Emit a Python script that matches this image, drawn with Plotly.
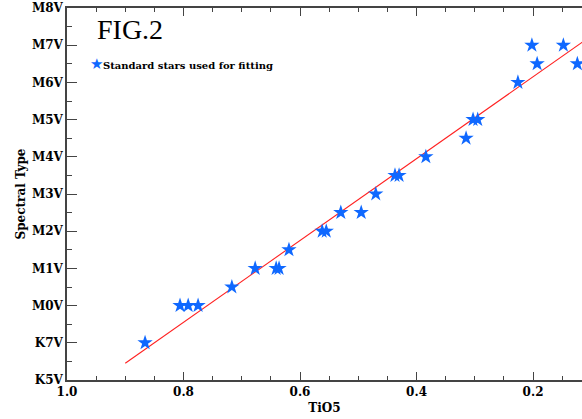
import plotly.graph_objects as go

# Standard stars: TiO5 index vs spectral type (K5V=0, K7V=1, M0V=2, ..., M8V=10)
tio5 = [0.866, 0.806, 0.792, 0.775, 0.717, 0.677, 0.641, 0.636, 0.619,
        0.562, 0.555, 0.530, 0.495, 0.470, 0.437, 0.430, 0.384, 0.315,
        0.303, 0.295, 0.226, 0.202, 0.193, 0.148, 0.124]
sptype = [1.0, 2.0, 2.0, 2.0, 2.5, 3.0, 3.0, 3.0, 3.5,
          4.0, 4.0, 4.5, 4.5, 5.0, 5.5, 5.5, 6.0, 6.5,
          7.0, 7.0, 8.0, 9.0, 8.5, 9.0, 8.5]

# Linear fit: SpT = intercept + slope * TiO5
fit_slope = -11.0
fit_intercept = 10.35
fit_x = [0.9, 0.05]
fit_y = [fit_intercept + fit_slope * v for v in fit_x]

ytick_vals = [0, 1, 2, 3, 4, 5, 6, 7, 8, 9, 10]
ytick_text = ["K5V", "K7V", "M0V", "M1V", "M2V", "M3V", "M4V", "M5V", "M6V", "M7V", "M8V"]
xtick_vals = [1.0, 0.8, 0.6, 0.4, 0.2]
xtick_text = ["1.0", "0.8", "0.6", "0.4", "0.2"]

serif = "DejaVu Serif"
blue = "#0f68ff"

fig = go.Figure()
fig.add_trace(go.Scatter(x=fit_x, y=fit_y, mode="lines",
                         line=dict(color="#ff2020", width=1.1), showlegend=False))
fig.add_trace(go.Scatter(x=tio5, y=sptype, mode="markers",
                         marker=dict(symbol="star", size=11.5, color=blue,
                                     line=dict(width=0)),
                         showlegend=False))

axis_common = dict(showgrid=False, zeroline=False, showline=True,
                   linecolor="#444", linewidth=1.5, ticks="inside",
                   tickcolor="#444", tickwidth=1.2,
                   tickfont=dict(family=serif, size=12, color="black", weight="bold"))

fig.update_xaxes(range=[1.0, 0.116], tickvals=xtick_vals, ticktext=xtick_text,
                 ticklen=8, mirror="ticks",
                 minor=dict(ticks="inside", ticklen=4, dtick=0.05, tick0=0,
                            tickcolor="#444", tickwidth=1.2),
                 title=dict(text="<b>TiO5</b>", font=dict(family=serif, size=12, color="black"),
                            standoff=5),
                 **axis_common)
fig.update_yaxes(range=[0, 10], tickvals=ytick_vals, ticktext=ytick_text,
                 ticklen=10,
                 minor=dict(ticks="inside", ticklen=5, dtick=0.5, tick0=0,
                            tickcolor="#444", tickwidth=1.2),
                 title=dict(text="<b>Spectral Type</b>", font=dict(family=serif, size=12, color="black"),
                            standoff=4),
                 **axis_common)

fig.add_annotation(x=0.055, y=0.99, xref="paper", yref="paper", xanchor="left", yanchor="top",
                   text="FIG.2", showarrow=False,
                   font=dict(family="Liberation Serif", size=28, color="black"))
fig.add_annotation(x=0.04, y=0.85, xref="paper", yref="paper", xanchor="left", yanchor="middle",
                   text=f'<span style="color:{blue};font-size:15px">★</span><b>Standard stars used for fitting</b>',
                   showarrow=False,
                   font=dict(family=serif, size=10, color="black"))

fig.update_layout(width=582, height=419, margin=dict(l=67, r=0, t=8, b=39),
                  plot_bgcolor="white", paper_bgcolor="white")

fig.write_html("out.html")
